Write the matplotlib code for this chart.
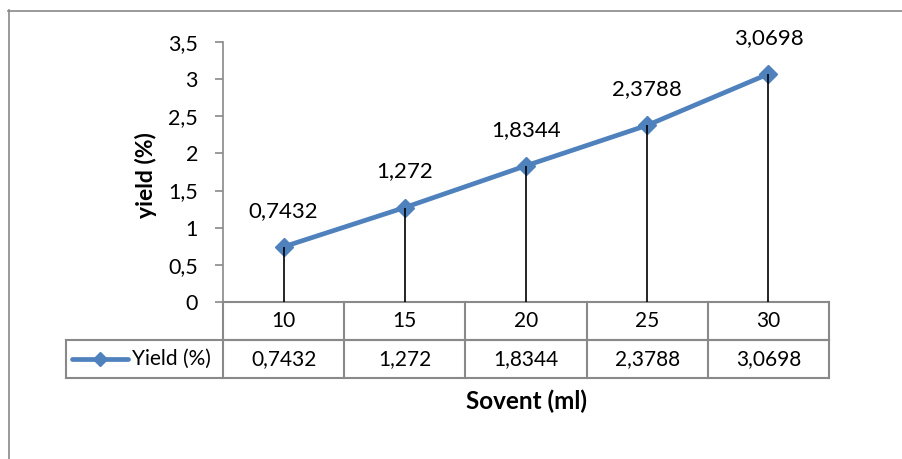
import matplotlib
matplotlib.use("Agg")
import matplotlib.pyplot as plt
from matplotlib.lines import Line2D

# ---- data ----
categories = ["10", "15", "20", "25", "30"]
yield_values = [0.7432, 1.272, 1.8344, 2.3788, 3.0698]
series_name = "Yield (%)"
y_ticks = [0, 0.5, 1, 1.5, 2, 2.5, 3, 3.5]
x_title = "Sovent (ml)"
y_title = "yield (%)"

def fmt(v):
    s = ("%g" % v)
    return s.replace(".", ",")

plt.rcParams['font.family'] = ['Lato', 'DejaVu Sans']

W, H = 903, 459
fig = plt.figure(figsize=(W / 100, H / 100), dpi=100)

def fx(px):
    return px / W

def fy(py):
    return 1 - py / H

# axes placement (pixels)
L, R, T, B = 223, 829, 42, 302
ax = fig.add_axes([fx(L), fy(B), fx(R - L), (B - T) / H])
n = len(categories)
xs = list(range(n))
ax.set_xlim(-0.5, n - 0.5)
ax.set_ylim(0, 3.5)

blue = "#4F81BD"
grey = "#898989"

ax.plot(xs, yield_values, color=blue, lw=3.4, marker="D", markersize=9.5,
        markeredgecolor=blue, markerfacecolor=blue, zorder=3, clip_on=False)
ax.vlines(xs, 0, yield_values, colors="black", lw=1.2, zorder=4)

for x, v in zip(xs, yield_values):
    ax.annotate(fmt(v), (x, v), xytext=(0, 26), textcoords="offset points",
                ha="center", va="center", fontsize=16)

ax.set_yticks(y_ticks)
ax.set_yticklabels([fmt(t) for t in y_ticks], fontsize=15.5)
ax.set_xticks([])
for s in ["top", "right"]:
    ax.spines[s].set_visible(False)
ax.spines["left"].set_color(grey)
ax.spines["bottom"].set_color(grey)
ax.spines["left"].set_linewidth(1.2)
ax.spines["bottom"].set_linewidth(1.5)
ax.tick_params(axis="y", length=6, width=1.2, color=grey, pad=12)

# ---- data table ----
row_h = 38 / (B - T)
leg_left = (66 - L) / (R - L)
tr = ax.transAxes
lk = dict(color=grey, lw=1.5, transform=tr, clip_on=False)
ax.add_line(Line2D([0, 1], [-row_h, -row_h], **lk))
ax.add_line(Line2D([leg_left, 1], [-row_h, -row_h], **lk))
ax.add_line(Line2D([leg_left, 1], [-2 * row_h, -2 * row_h], **lk))
for i in range(n + 1):
    xf = i / n
    ax.add_line(Line2D([xf, xf], [0, -2 * row_h], **lk))
ax.add_line(Line2D([leg_left, leg_left], [-row_h, -2 * row_h], **lk))

for i, (c, v) in enumerate(zip(categories, yield_values)):
    xc = (i + 0.5) / n
    ax.text(xc, -0.5 * row_h, c, transform=tr, ha="center", va="center", fontsize=15)
    ax.text(xc, -1.5 * row_h, fmt(v), transform=tr, ha="center", va="center", fontsize=15)

# legend key
k0 = (72 - L) / (R - L)
k1 = (128 - L) / (R - L)
ax.add_line(Line2D([k0, k1], [-1.5 * row_h] * 2, color=blue, lw=3.4,
                   transform=tr, clip_on=False, solid_capstyle="round"))
ax.add_line(Line2D([(k0 + k1) / 2], [-1.5 * row_h], color=blue, marker="D",
                   markersize=7, transform=tr, clip_on=False, lw=0))
ax.text((132 - L) / (R - L), -1.5 * row_h, series_name, transform=tr,
        ha="left", va="center", fontsize=15)

# axis titles
fig.text(fx(527), fy(401), x_title, ha="center", va="center",
         fontsize=17.5, fontweight="bold")
fig.text(fx(146), fy(175), y_title, ha="center", va="center",
         fontsize=16.5, fontweight="bold", rotation=90)

# outer frame
fig.add_artist(Line2D([fx(8.5), fx(8.5)], [fy(10), 0], color=grey, lw=1.2,
                      transform=fig.transFigure))
fig.add_artist(Line2D([fx(8), 1], [fy(10.5), fy(10.5)], color=grey, lw=1.2,
                      transform=fig.transFigure))

fig.savefig("out.png", dpi=100)
